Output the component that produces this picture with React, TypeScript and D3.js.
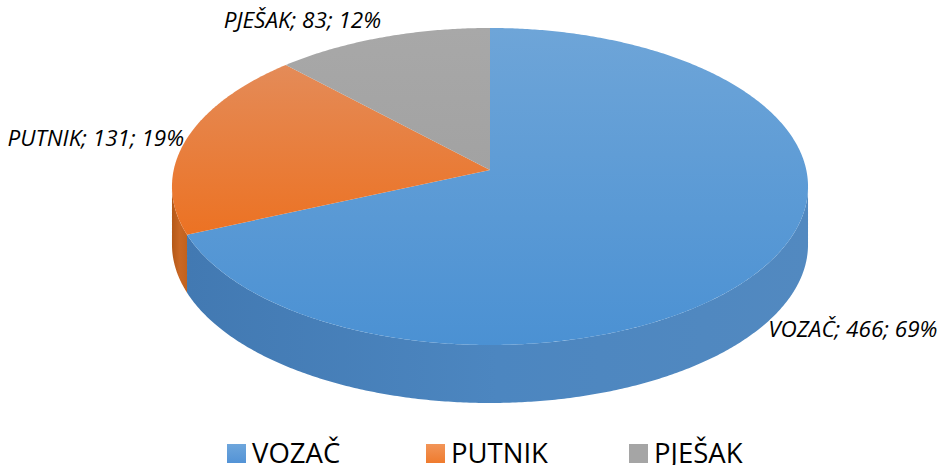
import React from "react";
import * as d3 from "d3";

const categories = ["VOZAČ", "PUTNIK", "PJEŠAK"];
const values = [466, 131, 83];
const percents = ["69%", "19%", "12%"];

const W = 941, H = 465;
// perspective projection of the pie disc
const x0 = 490, y0 = 170, Sx = 316.3, Sy = 156.8, k = 0.104, depth = 58;

const topColors = [
  ["#6ea5d8", "#4b91d3"],
  ["#e48b58", "#ec7223"],
  ["#a8a8a8", "#a2a2a2"],
];
const sideColors = [
  ["#4279b2", "#4c86c0", "#5289c0"],
  ["#b45818", "#c96724", "#c0621f"],
  ["#808080", "#909090", "#808080"],
];
const legendColors = [["#6ea6dc", "#5393d6"], ["#f29558", "#ef7b2e"], ["#a5a5a5", "#a5a5a5"]];

function pt(a: number, dy = 0): [number, number] {
  const u = Math.sin(a), v = Math.cos(a);
  const d = 1 + k * v;
  return [x0 + (Sx * u) / d, y0 - (Sy * v) / d + dy];
}

function arcPts(a0: number, a1: number, dy = 0): [number, number][] {
  const n = Math.max(2, Math.ceil(Math.abs(a1 - a0) / (Math.PI / 360)));
  const out: [number, number][] = [];
  for (let i = 0; i <= n; i++) out.push(pt(a0 + ((a1 - a0) * i) / n, dy));
  return out;
}

export default function App() {
  const pie = d3.pie<number>().sort(null).value((d) => d)(values);
  const line = d3.line();

  const sides: JSX.Element[] = [];
  const tops: JSX.Element[] = [];

  const sil0 = Math.PI / 2 + Math.asin(k);
  const sil1 = (3 * Math.PI) / 2 - Math.asin(k);

  pie.forEach((p, i) => {
    const a0 = p.startAngle, a1 = p.endAngle;
    const s0 = Math.max(a0, sil0), s1 = Math.min(a1, sil1);
    if (s1 > s0) {
      const topEdge = arcPts(s0, s1);
      const botEdge = arcPts(s1, s0, depth);
      sides.push(
        <path key={"s" + i} d={line([...topEdge, ...botEdge])! + "Z"} fill={`url(#side${i})`} />
      );
    }
    const pts: [number, number][] = [[x0, y0], ...arcPts(a0, a1)];
    tops.push(<path key={"t" + i} d={line(pts)! + "Z"} fill={`url(#top${i})`} />);
  });

  const mid = (i: number) => (pie[i].startAngle + pie[i].endAngle) / 2;
  const lblStyle: React.CSSProperties = {
    fontFamily: "'Open Sans', 'Noto Sans', sans-serif",
    fontStyle: "italic",
    fontSize: 22.5,
    fill: "#000",
  };
  const text = (i: number) => `${categories[i]}; ${values[i]}; ${percents[i]}`;
  const [l0x, l0y] = pt(mid(0), depth);
  const [l1x, l1y] = pt(mid(1));
  const [l2x, l2y] = pt(mid(2));

  const legendX = [227, 426, 629];
  const legendStyle: React.CSSProperties = {
    fontFamily: "'Open Sans', 'Noto Sans', sans-serif",
    fontSize: 27.5,
    fill: "#000",
  };

  return (
    <svg width={W} height={H} style={{ position: "absolute", left: 0, top: 0 }}>
      <defs>
        {topColors.map((c, i) => (
          <linearGradient key={"tg" + i} id={`top${i}`} x1="0" y1="0" x2="0" y2="1">
            <stop offset="0" stopColor={c[0]} />
            <stop offset="1" stopColor={c[1]} />
          </linearGradient>
        ))}
        {sideColors.map((c, i) => (
          <linearGradient key={"sg" + i} id={`side${i}`} x1="0" y1="0" x2="1" y2="0">
            <stop offset="0" stopColor={c[0]} />
            <stop offset="0.5" stopColor={c[1]} />
            <stop offset="1" stopColor={c[2]} />
          </linearGradient>
        ))}
        {legendColors.map((c, i) => (
          <linearGradient key={"lg" + i} id={`leg${i}`} x1="0" y1="0" x2="0" y2="1">
            <stop offset="0" stopColor={c[0]} />
            <stop offset="1" stopColor={c[1]} />
          </linearGradient>
        ))}
      </defs>
      <rect width={W} height={H} fill="#fff" />
      {sides}
      {tops}
      <text x={l0x - 2} y={l0y + 12} textAnchor="start" dominantBaseline="middle" style={lblStyle}>
        {text(0)}
      </text>
      <text x={l1x - 2} y={l1y} textAnchor="end" dominantBaseline="middle" style={lblStyle}>
        {text(1)}
      </text>
      <text x={l2x - 1} y={l2y - 15} textAnchor="end" dominantBaseline="middle" style={lblStyle}>
        {text(2)}
      </text>
      {categories.map((c, i) => (
        <g key={"leg" + i}>
          <rect x={legendX[i]} y={444} width={19} height={19} fill={`url(#leg${i})`} />
          <text x={legendX[i] + 25} y={463} style={legendStyle}>
            {c}
          </text>
        </g>
      ))}
    </svg>
  );
}
